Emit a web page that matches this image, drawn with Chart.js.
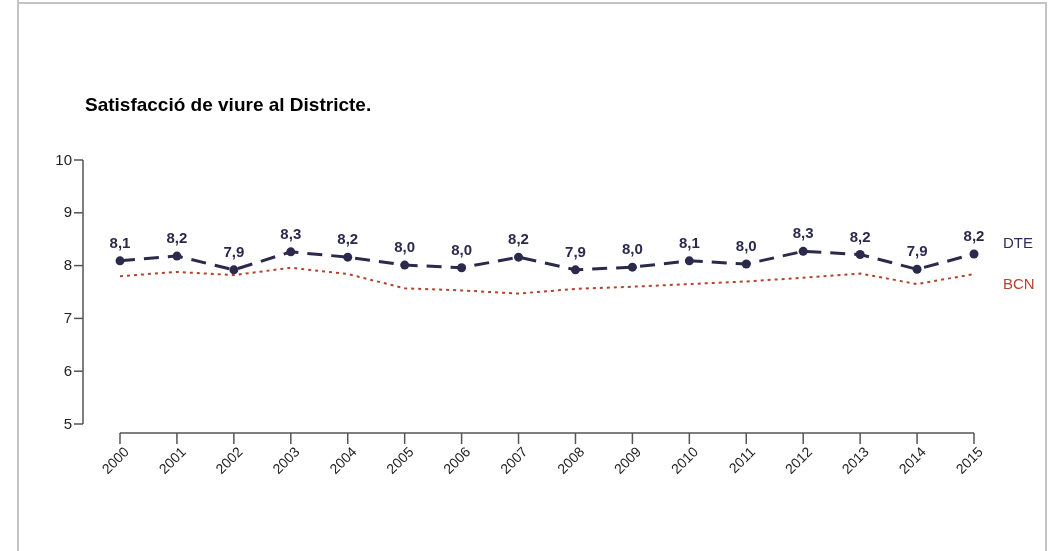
<!DOCTYPE html>
<html>
<head>
<meta charset="utf-8">
<script src="https://cdn.jsdelivr.net/npm/chart.js@4/dist/chart.umd.min.js"></script>
<style>
  html, body { margin: 0; padding: 0; background: #fff; }
  #wrap { position: relative; width: 1049px; height: 551px; overflow: hidden; }
  #frame { position: absolute; left: 17px; top: 2px; width: 1026px; height: 560px;
           border-top: 2px solid #c4c4c4; border-left: 2px solid #c4c4c4; border-right: 2px solid #c4c4c4; }
  #leftline { position: absolute; left: 17px; top: 0; width: 2px; height: 4px; background: #c4c4c4; }
  canvas { position: absolute; left: 0; top: 0; }
</style>
</head>
<body>
<div id="wrap">
  <div id="frame"></div>
  <div id="leftline"></div>
  <canvas id="c" width="1049" height="551"></canvas>
</div>
<script>
const years = ['2000','2001','2002','2003','2004','2005','2006','2007','2008','2009','2010','2011','2012','2013','2014','2015'];
const dteValues = [8.09, 8.18, 7.92, 8.26, 8.16, 8.01, 7.96, 8.16, 7.92, 7.97, 8.09, 8.03, 8.27, 8.21, 7.93, 8.22];
const bcnValues = [7.80, 7.88, 7.82, 7.96, 7.84, 7.57, 7.53, 7.47, 7.56, 7.60, 7.65, 7.70, 7.77, 7.85, 7.65, 7.84];
const yTicks = [5, 6, 7, 8, 9, 10];
const seriesNames = ['DTE', 'BCN'];
const titleText = 'Satisfacció de viure al Districte.';

const DTE_COLOR = '#2b2a4c';
const BCN_COLOR = '#b3432f';
const AXIS_COLOR = '#555555';
const FONT = '"Liberation Sans", Arial, sans-serif';

const fmt = v => v.toFixed(1).replace('.', ',');

const decorPlugin = {
  id: 'decor',
  afterDatasetsDraw(chart) {
    const ctx = chart.ctx;
    const xs = chart.scales.x, ys = chart.scales.y;
    ctx.save();
    // title
    ctx.fillStyle = '#000';
    ctx.font = 'bold 19px ' + FONT;
    ctx.textAlign = 'left';
    ctx.textBaseline = 'alphabetic';
    ctx.fillText(titleText, 85, 110.5);

    // y axis (detached, R-style)
    const yAxisX = 83;
    ctx.strokeStyle = AXIS_COLOR;
    ctx.lineWidth = 1.5;
    ctx.beginPath();
    ctx.moveTo(yAxisX, ys.getPixelForValue(yTicks[0]));
    ctx.lineTo(yAxisX, ys.getPixelForValue(yTicks[yTicks.length - 1]));
    ctx.stroke();
    ctx.fillStyle = '#222';
    ctx.font = '15px ' + FONT;
    ctx.textAlign = 'right';
    ctx.textBaseline = 'middle';
    yTicks.forEach(t => {
      const py = ys.getPixelForValue(t);
      ctx.beginPath();
      ctx.moveTo(yAxisX - 9, py);
      ctx.lineTo(yAxisX, py);
      ctx.stroke();
      ctx.fillText(String(t), yAxisX - 11, py + 0.5);
    });

    // x axis (detached)
    const xAxisY = 433;
    ctx.beginPath();
    ctx.moveTo(xs.getPixelForValue(0), xAxisY);
    ctx.lineTo(xs.getPixelForValue(years.length - 1), xAxisY);
    ctx.stroke();
    ctx.font = '14px ' + FONT;
    ctx.fillStyle = '#222';
    years.forEach((yr, i) => {
      const px = xs.getPixelForValue(i);
      ctx.beginPath();
      ctx.moveTo(px, xAxisY);
      ctx.lineTo(px, xAxisY + 11);
      ctx.stroke();
      ctx.save();
      ctx.translate(px + 7, xAxisY + 17);
      ctx.rotate(-Math.PI / 4);
      ctx.textAlign = 'right';
      ctx.textBaseline = 'middle';
      ctx.fillText(yr, 0, 0);
      ctx.restore();
    });

    // data labels for DTE
    const meta = chart.getDatasetMeta(0);
    ctx.fillStyle = DTE_COLOR;
    ctx.font = 'bold 15px ' + FONT;
    ctx.textAlign = 'center';
    ctx.textBaseline = 'middle';
    meta.data.forEach((pt, i) => {
      ctx.fillText(fmt(dteValues[i]), pt.x, pt.y - 17);
    });

    // series names at right
    ctx.font = '15px ' + FONT;
    ctx.textAlign = 'left';
    ctx.fillStyle = '#2f2d55';
    ctx.fillText(seriesNames[0], 1003, ys.getPixelForValue(8.42));
    ctx.fillStyle = BCN_COLOR;
    ctx.fillText(seriesNames[1], 1003, ys.getPixelForValue(7.63));
    ctx.restore();
  }
};

new Chart(document.getElementById('c'), {
  type: 'line',
  data: {
    labels: years,
    datasets: [
      {
        label: seriesNames[0],
        data: dteValues,
        borderColor: DTE_COLOR,
        backgroundColor: DTE_COLOR,
        borderWidth: 3,
        borderDash: [15, 9],
        pointRadius: 4.5,
        pointBackgroundColor: DTE_COLOR,
        pointBorderWidth: 0,
        tension: 0,
        clip: false,
        order: 0
      },
      {
        label: seriesNames[1],
        data: bcnValues,
        borderColor: BCN_COLOR,
        borderWidth: 2,
        borderDash: [3, 4],
        pointRadius: 0,
        tension: 0,
        clip: false,
        order: 1
      }
    ]
  },
  options: {
    responsive: false,
    animation: false,
    devicePixelRatio: 1,
    layout: { padding: { left: 120, right: 75, top: 160, bottom: 127 } },
    scales: {
      x: { type: 'category', display: false, offset: false },
      y: { type: 'linear', display: false, min: 5, max: 10 }
    },
    plugins: { legend: { display: false }, tooltip: { enabled: false }, title: { display: false } }
  },
  plugins: [decorPlugin]
});
</script>
</body>
</html>
